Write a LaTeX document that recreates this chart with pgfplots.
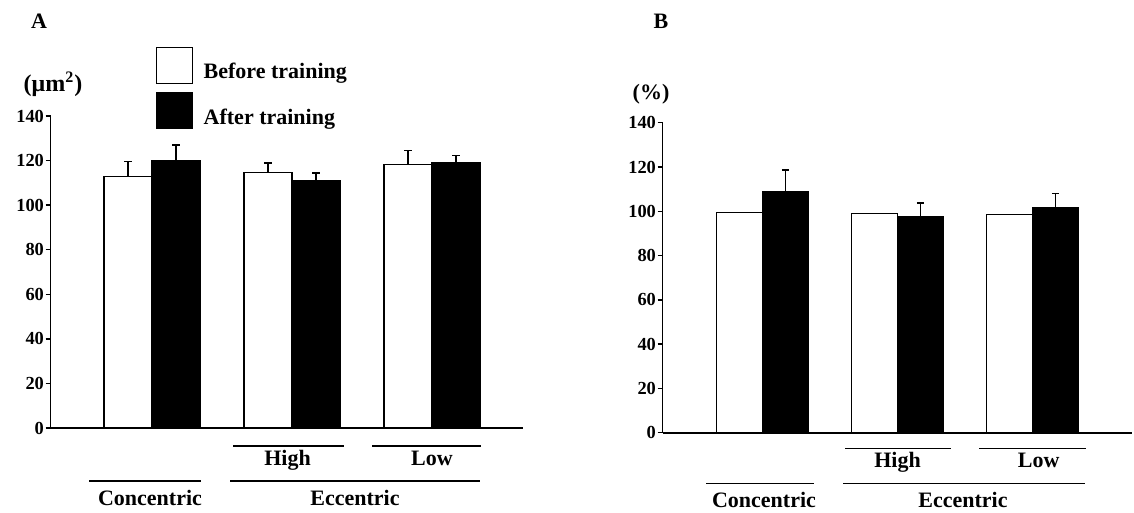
\documentclass[border=0pt]{standalone}
\usepackage{fontspec}
\setmainfont{Liberation Serif}
\usepackage{pgfplots}
\usepackage{pgfplotstable}
\pgfplotsset{compat=1.18}

\pgfplotstableread{
g before berr after aerr
0 113.0 6.7 120.0 7.0
1 114.5 4.5 111.0 3.4
2 118.3 6.2 119.2 3.0
}\tableA
\pgfplotstableread{
g before after aerr
0 99.5 108.8 9.8
1 99.0 97.5 6.3
2 98.6 101.8 6.3
}\tableB

\pgfplotsset{
  panel/.style={
    scale only axis,
    axis x line=bottom, axis y line=left,
    axis line style={-, line width=0.8pt},
    ymin=0, ymax=140, ytick={0,20,...,140},
    xtick=\empty,
    tick align=outside, major tick length=2.5pt,
    tick style={line width=0.7pt, black},
    yticklabel style={font=\fontsize{9.2}{10}\selectfont\bfseries, inner sep=0.6pt},
    /pgf/number format/assume math mode=true,
    clip=false,
  },
  barbox/.style={legend image code/.code={\draw[##1, line width=0.6pt] (0pt,-5.5pt) rectangle (18pt,12.5pt);}},
  errstyle/.style={error bars/.cd, y dir=plus, y explicit,
    error bar style={line width=0.7pt, black},
    error mark options={rotate=90, mark size=1.9pt, line width=0.7pt, black}},
}

\begin{document}
\begin{tikzpicture}
% ---------------- Panel A ----------------
\begin{axis}[panel,
  at={(25.25pt,-214pt)}, anchor=south west,
  width=236.25pt, height=156pt,
  xmin=-0.725, xmax=2.65,
  legend style={at={(0.2233,1.2212)}, anchor=north west, draw=none, fill=none,
    inner sep=0pt, outer sep=0pt, row sep=4pt,
    nodes={inner sep=0pt},
    font=\fontsize{11}{13}\selectfont\bfseries,
    /tikz/every odd column/.append style={column sep=5.25pt}},
  legend cell align=left,
]
\addplot[ybar, barbox, fill=white, draw=black, line width=0.6pt,
  bar width=0.343, bar shift=0, errstyle]
  table[x expr=\thisrow{g}-0.1715, y=before, y error=berr]{\tableA};
\addlegendentry{Before training}
\addplot[ybar, barbox, fill=black, draw=black, line width=0.6pt,
  bar width=0.343, bar shift=0, errstyle]
  table[x expr=\thisrow{g}+0.1715, y=after, y error=aerr]{\tableA};
\addlegendentry{After training}
\end{axis}

% ---------------- Panel B ----------------
\begin{axis}[panel,
  at={(331.25pt,-216.35pt)}, anchor=south west,
  width=234.75pt, height=155pt,
  xmin=-0.741, xmax=2.737,
]
\addplot[ybar, fill=white, draw=black, line width=0.6pt,
  bar width=0.341, bar shift=0]
  table[x expr=\thisrow{g}-0.1705, y=before]{\tableB};
\addplot[ybar, fill=black, draw=black, line width=0.6pt,
  bar width=0.341, bar shift=0, errstyle]
  table[x expr=\thisrow{g}+0.1705, y=after, y error=aerr]{\tableB};
\end{axis}

% ---------------- annotations (pixel coordinates) ----------------
\begin{scope}[x=0.5pt, y=-0.5pt,
  every node/.style={inner sep=0pt, text height=0.66em, text depth=0pt,
    font=\fontsize{11}{13}\selectfont\bfseries}]
\path (0,0) rectangle (1134,513);
\node at (39,22) {A};
\node at (661,22) {B};
\node[text height=0.75em, font=\fontsize{12}{14}\selectfont\bfseries] at (53,84) {(μm\textsuperscript{2})};
\node[text height=0.75em] at (651,92) {(\%)};
% panel A group markers
\draw[line width=0.7pt] (233,446)--(344,446) (372,446)--(481,446)
  (89,481)--(201,481) (230,481)--(480,481);
\node at (287.5,459) {High};
\node at (432,459) {Low};
\node at (150,499) {Concentric};
\node at (355,499) {Eccentric};
% panel B group markers
\draw[line width=0.7pt] (845,448.7)--(951,448.7) (979,448.7)--(1086,448.7)
  (706,483.3)--(814,483.3) (843,483.3)--(1085,483.3);
\node at (897.5,461) {High};
\node at (1038.6,461) {Low};
\node at (764,500.7) {Concentric};
\node at (963,500.7) {Eccentric};
\end{scope}
\end{tikzpicture}
\end{document}
